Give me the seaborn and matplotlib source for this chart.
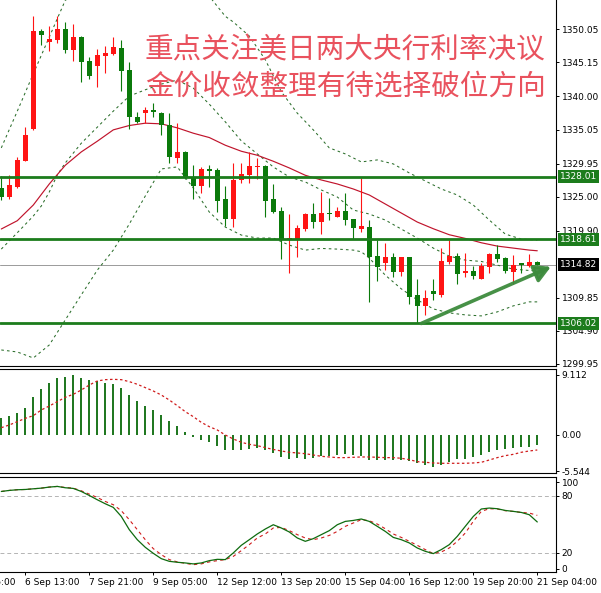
import numpy as np
import matplotlib
matplotlib.use("Agg")
import matplotlib.pyplot as plt
import matplotlib.transforms as mtransforms
import seaborn as sns

# H4 gold candles
opens = [1326.3, 1324.9, 1326.5, 1330.4, 1335.1, 1349.85, 1348.2, 1348.45, 1350.1, 1346.95,
         1348.95, 1345.35, 1344.55, 1346.1, 1346.35, 1347.2, 1343.95, 1336.95, 1337.45, 1337.95,
         1337.55, 1335.75, 1330.85, 1331.75, 1328.0, 1326.6, 1329.1, 1329.0, 1324.6, 1321.6,
         1327.5, 1328.25, 1329.4, 1329.6, 1324.6, 1322.85, 1318.5, 1318.65, 1320.1, 1322.4,
         1321.25, 1322.6, 1322.0, 1322.85, 1321.6, 1320.1, 1320.5, 1316.1, 1315.1, 1315.9,
         1313.75, 1315.9, 1310.3, 1308.65, 1310.9, 1310.3, 1315.2, 1316.1, 1313.5, 1313.9,
         1312.7, 1314.5, 1316.4, 1315.75, 1313.75, 1315.0, 1314.6, 1315.2]
highs = [1328.1, 1328.2, 1331.0, 1335.5, 1352.05, 1350.05, 1350.55, 1352.05, 1351.2, 1350.85,
         1349.0, 1345.85, 1347.05, 1347.55, 1348.85, 1348.45, 1345.2, 1337.6, 1338.4, 1339.05,
         1337.6, 1337.45, 1336.1, 1331.8, 1329.75, 1329.4, 1329.75, 1329.25, 1326.6, 1330.1,
         1330.1, 1331.75, 1330.75, 1329.75, 1326.9, 1323.5, 1322.4, 1320.75, 1322.5, 1324.0,
         1325.75, 1324.75, 1323.4, 1325.5, 1321.6, 1327.75, 1321.5, 1318.5, 1318.1, 1316.5,
         1315.9, 1315.9, 1312.6, 1311.1, 1312.6, 1317.25, 1318.5, 1316.5, 1316.6, 1314.6,
         1315.0, 1316.6, 1317.8, 1315.9, 1316.3, 1315.0, 1316.4, 1315.3]
lows = [1324.5, 1324.65, 1326.25, 1330.3, 1335.0, 1347.7, 1346.85, 1348.05, 1346.55, 1345.35,
        1342.2, 1342.55, 1341.35, 1343.55, 1346.2, 1340.85, 1335.2, 1336.0, 1336.0, 1336.95,
        1334.2, 1330.1, 1330.1, 1327.6, 1324.6, 1325.5, 1326.5, 1322.75, 1320.6, 1320.4,
        1327.0, 1327.0, 1327.6, 1322.0, 1322.55, 1315.6, 1313.5, 1316.0, 1319.9, 1320.25,
        1319.4, 1321.5, 1321.9, 1320.75, 1318.65, 1319.75, 1309.3, 1312.4, 1314.0, 1313.0,
        1313.1, 1308.9, 1306.1, 1307.3, 1309.6, 1310.0, 1314.9, 1312.0, 1313.0, 1312.7,
        1312.7, 1313.6, 1315.25, 1313.5, 1312.0, 1313.6, 1314.5, 1314.7]
closes = [1325.0, 1326.75, 1330.5, 1334.2, 1349.8, 1349.2, 1348.6, 1350.1, 1346.95, 1348.95,
          1345.2, 1343.1, 1346.2, 1346.55, 1347.45, 1343.85, 1336.95, 1336.2, 1337.95, 1337.6,
          1335.75, 1330.9, 1331.75, 1327.75, 1326.6, 1329.1, 1328.9, 1324.4, 1321.6, 1327.5,
          1328.35, 1329.6, 1329.6, 1324.4, 1322.75, 1318.5, 1318.75, 1320.25, 1322.4, 1321.25,
          1322.6, 1322.35, 1322.9, 1321.5, 1320.25, 1320.6, 1316.0, 1314.4, 1315.9, 1313.75,
          1315.9, 1310.0, 1308.65, 1309.8, 1310.4, 1315.4, 1316.1, 1313.4, 1313.9, 1313.15,
          1314.6, 1316.4, 1315.6, 1313.9, 1314.75, 1314.7, 1315.2, 1314.82]

# moving average (solid red)
ma_idx = list(range(0, 67, 2)) + [67]
ma_val = [1320.16, 1321.4, 1323.75, 1326.9, 1329.7, 1331.7, 1333.3, 1335.0, 1335.65, 1336.0,
          1335.9, 1335.3, 1334.5, 1333.85, 1332.7, 1331.8, 1331.2, 1330.3, 1329.3, 1328.2,
          1327.5, 1326.9, 1326.15, 1325.25, 1323.9, 1322.55, 1321.2, 1320.2, 1319.3, 1318.75,
          1318.1, 1317.6, 1317.3, 1317.0, 1316.9]

# bollinger bands (dashed green)
bb_up_idx = [0, 2, 4, 6, 8, 10, 12, 14, 16, 18, 20, 22, 24, 26, 28, 29, 31, 33, 35, 37,
             39, 41, 43, 45, 47, 49, 51, 53, 55, 57, 59, 61, 63, 65, 67]
bb_up_val = [1332.3, 1337.8, 1343.4, 1348.9, 1354.4, 1355.8, 1357.3, 1358.6, 1359.3, 1356.9,
             1354.6, 1355.5, 1356.2, 1355.0, 1352.0, 1351.15, 1349.05, 1345.5, 1340.7, 1337.5,
             1335.0, 1332.3, 1331.4, 1330.2, 1330.5, 1329.9, 1328.55, 1327.35, 1326.15, 1325.25,
             1323.75, 1321.5, 1319.4, 1318.65, 1318.5]
bb_mid_idx = [0, 2, 4, 5, 6, 7, 8] + list(range(10, 67, 2)) + [67]
bb_mid_val = [1317.15, 1319.6, 1322.1, 1323.6, 1325.7, 1328.25, 1330.05,
              1333.0, 1335.4, 1337.8, 1340.05, 1341.0, 1341.85, 1342.45, 1341.25, 1338.85, 1336.2,
              1333.35, 1331.4, 1329.45, 1327.95, 1327.2, 1326.0, 1324.95, 1323.0, 1322.4, 1321.5,
              1320.15, 1318.8, 1317.3, 1316.1, 1315.5, 1315.3, 1314.75, 1314.15, 1313.95, 1313.9]
bb_low_idx = list(range(0, 45, 2)) + [45, 46] + list(range(48, 67, 2)) + [67]
bb_low_val = [1302.05, 1301.75, 1300.85, 1302.8, 1306.55, 1310.3, 1314.0, 1317.0, 1320.9, 1325.1,
              1329.15, 1329.45, 1326.3, 1322.7, 1320.45, 1319.25, 1318.8, 1318.8, 1317.75, 1317.0,
              1317.25, 1317.15, 1317.0, 1316.75, 1315.8, 1313.25, 1311.2, 1309.55, 1308.2, 1307.6,
              1307.3, 1307.15, 1307.75, 1308.65, 1309.25, 1309.25]

sr_levels = [1328.01, 1318.61, 1306.02]
last_price = 1314.82
trend_x = [52.5, 68.7]
trend_y = [1306.02, 1314.5]

macd_hist = [2.63, 2.89, 3.39, 4.05, 5.77, 6.99, 7.95, 8.71, 8.81, 9.11,
             8.71, 8.35, 8.2, 7.95, 7.75, 7.19, 6.07, 5.21, 4.45, 3.85,
             3.04, 2.13, 1.37, 0.51, -0.3, -0.76, -1.0, -1.62, -2.33, -2.33,
             -2.33, -2.18, -2.0, -2.28, -2.7, -3.29, -3.64, -3.54, -3.64, -3.44,
             -3.14, -3.14, -3.04, -2.94, -3.04, -3.14, -3.8, -3.8, -3.8, -3.8,
             -3.8, -3.95, -4.3, -4.56, -4.81, -4.56, -4.05, -3.69, -3.64, -3.39,
             -3.04, -2.53, -2.28, -2.13, -1.92, -1.77, -1.77, -1.52]
macd_signal = [1.11, 1.52, 2.02, 2.53, 2.93, 3.80, 4.40, 5.06, 5.72, 6.18,
               6.83, 7.59, 8.20, 8.40, 8.45, 8.40, 8.10, 7.70, 7.19, 6.68,
               6.07, 5.31, 4.45, 3.54, 2.78, 1.92, 1.26, 0.76, 0.0, -0.61,
               -1.11, -1.42, -1.62, -1.92, -2.2, -2.43, -2.63, -2.73, -2.84, -3.04,
               -3.24, -3.34, -3.44, -3.44, -3.39, -3.34, -3.34, -3.39, -3.44, -3.44,
               -3.54, -3.75, -4.05, -4.15, -4.25, -4.30, -4.30, -4.30, -4.30, -4.25,
               -4.15, -3.80, -3.44, -3.14, -2.94, -2.63, -2.43, -2.28]

stoch_main = [84.5, 85.6, 86.3, 86.6, 87.3, 88.0, 89.1, 89.8, 88.4, 87.7,
              84.5, 80.3, 75.8, 71.6, 67.8, 58.3, 44.4, 33.9, 25.9, 19.6,
              14.0, 11.2, 10.2, 9.5, 8.5, 9.5, 11.9, 13.3, 13.0, 20.0,
              28.0, 33.9, 39.9, 45.1, 49.6, 46.2, 42.0, 35.7, 32.2, 35.0,
              39.2, 43.4, 49.6, 53.1, 54.1, 55.6, 53.1, 47.9, 42.6, 36.3,
              33.9, 30.5, 25.2, 21.7, 19.3, 23.5, 28.7, 37.4, 47.9, 58.3,
              66.1, 67.1, 66.4, 64.6, 63.6, 62.5, 60.1, 52.5]
stoch_signal = [84.5, 85.6, 86.3, 86.6, 87.3, 88.0, 89.1, 89.8, 88.7, 88.0,
                85.2, 81.7, 78.2, 74.0, 70.6, 64.3, 54.9, 44.4, 33.9, 24.5,
                18.2, 13.0, 10.6, 9.1, 7.7, 8.5, 10.6, 11.9, 13.0, 16.4,
                22.4, 28.7, 35.7, 39.9, 46.2, 46.8, 43.4, 39.2, 35.7, 33.9,
                35.7, 38.4, 42.6, 47.9, 51.4, 54.9, 53.8, 50.3, 45.4, 39.9,
                36.3, 32.2, 28.0, 23.5, 19.3, 21.0, 25.2, 32.2, 40.9, 53.1,
                63.6, 66.4, 66.1, 64.3, 63.6, 62.5, 61.9, 59.4]

price_ticks = [1350.05, 1345.15, 1340.00, 1335.05, 1329.95, 1325.00, 1319.90, 1309.85, 1304.90, 1299.95]
time_idx = [3, 11, 19, 27, 35, 43, 51, 59, 67]
time_labels = ["6 Sep 13:00", "7 Sep 21:00", "9 Sep 05:00", "12 Sep 12:00", "13 Sep 20:00",
               "15 Sep 04:00", "16 Sep 12:00", "19 Sep 20:00", "21 Sep 04:00"]
title_lines = ["重点关注美日两大央行利率决议", "金价收敛整理有待选择破位方向"]

UP = "#ff1414"
DOWN = "#0b7a0b"
SR_GREEN = "#1c7c1c"
BB_GREEN = "#2b6e2b"
MA_RED = "#c0142c"
FS = 6.5

sns.set_theme(style="white")
plt.rcParams["font.family"] = ["DejaVu Sans", "Noto Sans CJK SC"]

W, H = 601, 593
fig = plt.figure(figsize=(W / 100, H / 100), dpi=100)


def panel(top, bottom):
    return fig.add_axes([0, 1 - bottom / H, 556 / W, (bottom - top) / H])


ax = panel(0, 366)
ax_macd = panel(369, 473.3)
ax_st = panel(476.7, 572)


def line(axis, x, y, color, lw, dashes=None, z=2):
    sns.lineplot(x=x, y=y, ax=axis, color=color, linewidth=lw, estimator=None,
                 sort=False, legend=False, zorder=z)
    if dashes:
        axis.lines[-1].set_dashes(dashes)


# ---- price panel
idx = np.arange(len(closes))
o, h, l, c = map(np.array, (opens, highs, lows, closes))
cols = np.where(c >= o, UP, DOWN)

ax.axhline(last_price, color="#9a9a9a", lw=0.7, zorder=1)
line(ax, bb_up_idx, bb_up_val, BB_GREEN, 0.75, [2.5, 3])
line(ax, bb_mid_idx, bb_mid_val, BB_GREEN, 0.75, [2.5, 3])
line(ax, bb_low_idx, bb_low_val, BB_GREEN, 0.75, [2.5, 3])
line(ax, ma_idx, ma_val, MA_RED, 0.85)

ax.vlines(idx, l, h, colors=cols, lw=0.8, zorder=3)
ax.bar(idx, np.maximum(np.abs(c - o), 0.15), bottom=np.minimum(o, c), width=0.62,
       color=cols, linewidth=0, zorder=4)

for lv in sr_levels:
    ax.axhline(lv, color=SR_GREEN, lw=2.0, zorder=5)

ax.annotate("", xy=(trend_x[1], trend_y[1]), xytext=(trend_x[0], trend_y[0]),
            arrowprops=dict(arrowstyle="-|>,head_length=0.8,head_width=0.45", color="#3d8b3d",
                            lw=2.6, shrinkA=0, shrinkB=0, alpha=0.95),
            zorder=6, annotation_clip=False)

ax.set_xlim(-0.1625, 69.34)
ax.set_ylim(1299.65, 1354.44)
ax.set_xticks([])
ax.yaxis.tick_right()
ax.set_yticks(price_ticks)
ax.set_yticklabels([f"{v:.2f}" for v in price_ticks])

trans = mtransforms.blended_transform_factory(ax.transAxes, ax.transData)
ax.text(1.0108, 1355.05, "1355.05", transform=trans, ha="left", va="center",
        fontsize=FS, color="black", clip_on=False)
for lv, bg in [(sr_levels[0], SR_GREEN), (sr_levels[1], SR_GREEN),
               (sr_levels[2], SR_GREEN), (last_price, "black")]:
    ax.text(1.0065, lv, f"{lv:.2f}", transform=trans, ha="left", va="center",
            fontsize=FS, color="white", clip_on=False, zorder=10,
            bbox=dict(boxstyle="square,pad=0.22", fc=bg, ec="none"))

for k, txt in enumerate(title_lines):
    fig.text(145 / W, 1 - (50.5 + 36.5 * k) / H, txt, fontsize=20.6, color="#e9525e",
             fontweight="light", ha="left", va="center",
             family=["Noto Sans CJK SC", "DejaVu Sans"])

# ---- MACD panel
ax_macd.vlines(idx, 0, macd_hist, colors="#0a6a0a", lw=1.3, zorder=2)
line(ax_macd, idx, macd_signal, "#d01c1c", 0.9, [2, 2], z=3)
ax_macd.set_xlim(ax.get_xlim())
ax_macd.set_ylim(-5.82, 10.02)
ax_macd.set_xticks([])
ax_macd.yaxis.tick_right()
ax_macd.set_yticks([9.112, 0.0, -5.544])
ax_macd.set_yticklabels(["9.112", "0.00", "-5.544"])

# ---- stochastic panel
for lv in (80, 20):
    ax_st.axhline(lv, color="#b4b4b4", lw=0.7, dashes=(4, 3), zorder=1)
line(ax_st, idx, stoch_signal, "#d01c1c", 0.8, [3, 3], z=2)
line(ax_st, idx, stoch_main, "#0e6b0e", 0.9, z=3)
ax_st.set_xlim(ax.get_xlim())
ax_st.set_ylim(0, 100)
ax_st.yaxis.tick_right()
ax_st.set_yticks([94, 80, 20, 3.5])
ax_st.set_yticklabels(["100", "80", "20", "0"])
ax_st.set_xticks(time_idx)
ax_st.set_xticklabels(time_labels, ha="left")
ax_st.tick_params(axis="x", direction="out", length=2.2, width=0.7, pad=2.1,
                  labelsize=FS, colors="black", bottom=True)
lbl_trans = mtransforms.offset_copy(
    mtransforms.blended_transform_factory(ax_st.transData, ax_st.transAxes),
    fig=fig, y=-4.3, units="points")
ax_st.text(-5, 0, "5 Sep 05:00", transform=lbl_trans, ha="left", va="top",
           fontsize=FS, color="black", clip_on=False)

for a in (ax, ax_macd, ax_st):
    a.set_xlabel("")
    a.set_ylabel("")
    a.set_facecolor("white")
    a.tick_params(axis="y", direction="out", length=2.2, width=0.7, pad=2,
                  labelsize=FS, colors="black", right=True)
    for name, sp in a.spines.items():
        sp.set_color("black")
        sp.set_linewidth(0.8)
        sp.set_visible(name != "left")
ax.spines["top"].set_visible(False)

fig.savefig("out.png", dpi=100, facecolor="white")
